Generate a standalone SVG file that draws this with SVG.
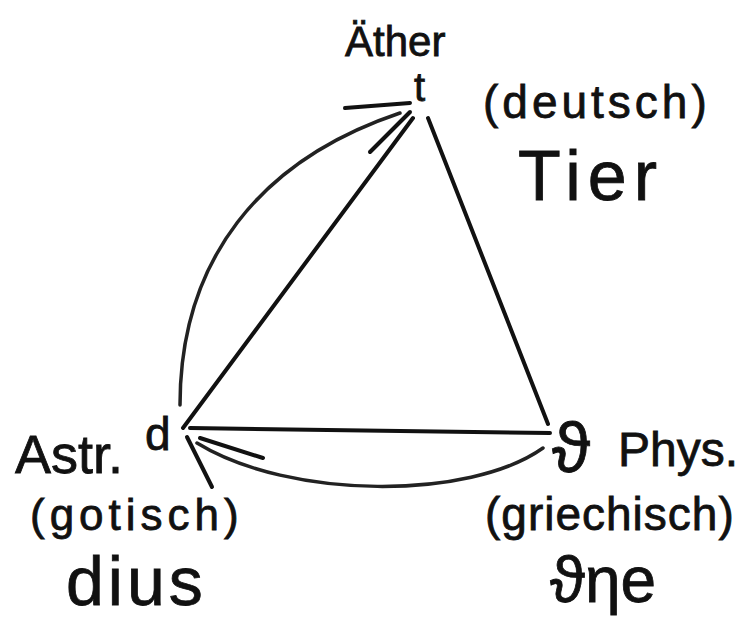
<svg xmlns="http://www.w3.org/2000/svg" width="756" height="627" viewBox="0 0 756 627">
<style>
  .t { font-family: "Liberation Sans", "DejaVu Sans", sans-serif; fill: #111; stroke: #111; stroke-width: 0.8; }
  .ln { fill: none; stroke: #111; stroke-width: 4; stroke-linecap: round; }
  .arc { fill: none; stroke: #222; stroke-width: 3.5; stroke-linecap: round; }
</style>
<rect width="756" height="627" fill="#fff"/>
<g id="connectors">
  <path class="ln" d="M183,428 L413,118"/>
  <path class="ln" d="M428,118 L548,424"/>
  <path class="ln" d="M550,433 L190,428"/>
  <path class="arc" d="M180,405 C180,260 260,160 400,113"/>
  <path class="ln" d="M345,108 L410,103"/>
  <path class="ln" d="M370,152 L410,112"/>
  <path class="arc" d="M543,448 C470,500 290,500 197,443"/>
  <path class="ln" d="M187,437 L212,487"/>
  <path class="ln" d="M200,438 L263,458"/>
</g>
<g id="node-aether">
  <text class="t" x="345" y="56" font-size="42">Äther</text>
  <text class="t" x="414" y="101" font-size="40">t</text>
  <text class="t" x="483" y="118" font-size="46" letter-spacing="4">(deutsch)</text>
  <text class="t" x="518" y="200" font-size="70" letter-spacing="7" stroke-width="0.3">Tier</text>
</g>
<g id="node-astr">
  <text class="t" x="15" y="473" font-size="54">Astr.</text>
  <text class="t" x="145" y="450" font-size="46">d</text>
  <text class="t" x="30" y="530" font-size="44" letter-spacing="5">(gotisch)</text>
  <text class="t" x="66" y="605" font-size="68" letter-spacing="4" stroke-width="0.3">dius</text>
</g>
<g id="node-phys">
  <text class="t" x="552" y="472" font-size="70">ϑ</text>
  <text class="t" x="618" y="466" font-size="48">Phys.</text>
  <text class="t" x="485" y="530" font-size="46" letter-spacing="1">(griechisch)</text>
  <text class="t" x="550" y="602" font-size="64" stroke-width="0.3">ϑηe</text>
</g>
</svg>
